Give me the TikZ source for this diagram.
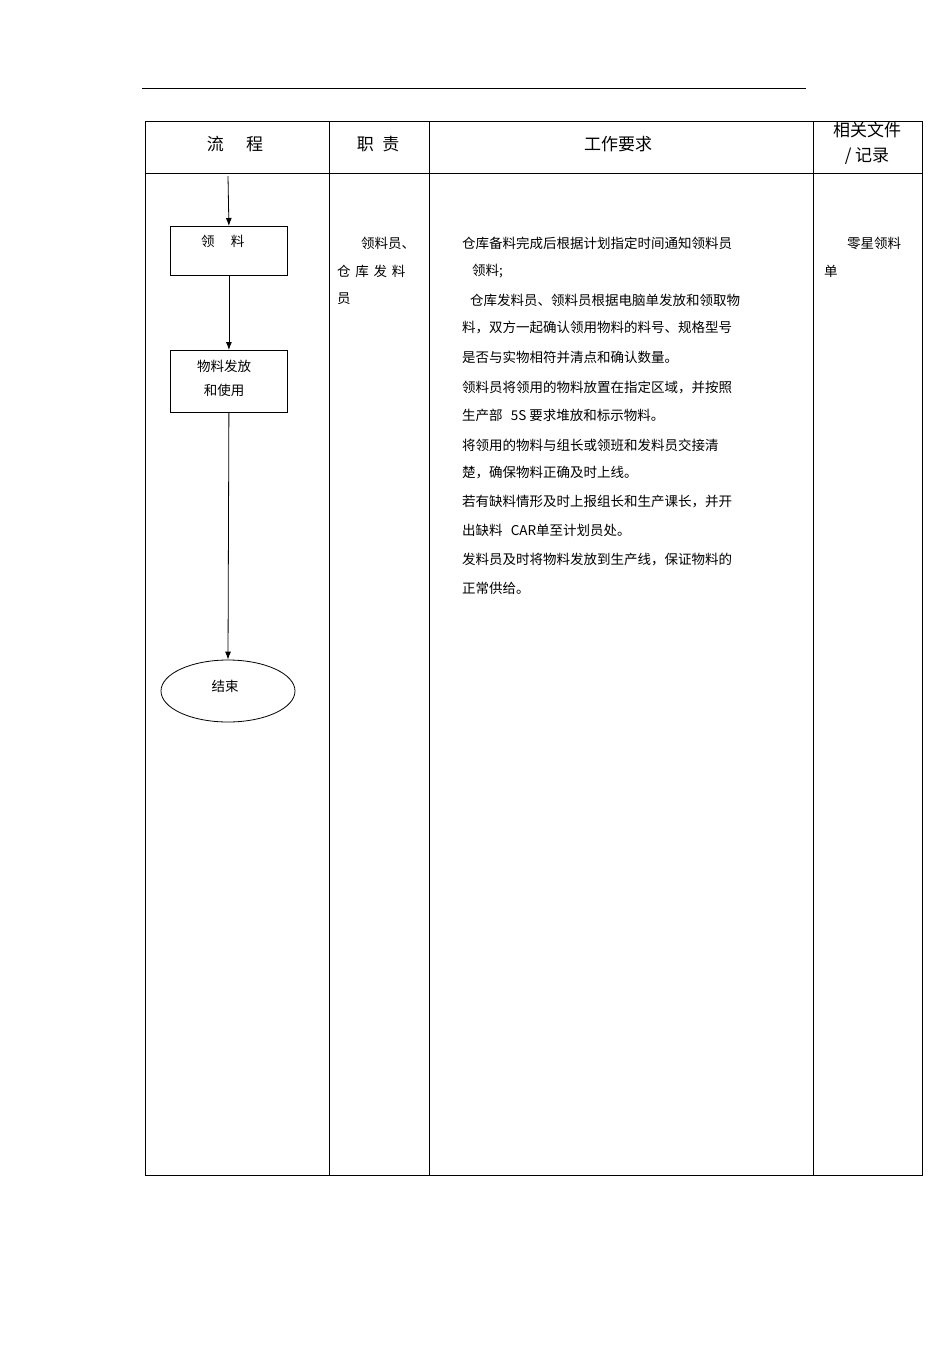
\documentclass[tikz,border=0pt]{standalone}
\usepackage{fontspec}
\setmainfont{Noto Sans CJK SC}
\usetikzlibrary{arrows.meta,shapes.geometric}
\tikzset{
  ln/.style={line width=0.8pt},
  arr/.style={ln,-{Latex[length=8pt,width=6pt]}},
  txt/.style={anchor=west,inner sep=0pt,font=\fontsize{13.5}{16}\selectfont},
  hdr/.style={inner sep=0pt,font=\fontsize{17}{20}\selectfont},
  box/.style={draw,ln,minimum width=117pt,inner sep=0pt,align=center,font=\fontsize{13.5}{24}\selectfont}
}
\begin{document}
\begin{tikzpicture}[x=1pt,y=-1pt]
\useasboundingbox (0,0) rectangle (950,1345);
\draw[line width=0.6pt] (142,88) -- (806,88);
\draw[ln] (145,121) rectangle (922,1175);
\foreach \x in {329,429,813} \draw[ln] (\x,121) -- (\x,1175);
\draw[ln] (145,173) -- (922,173);
\node[hdr] (h1) at (235,144) {流\hspace{1.3em}程};
\node[hdr] (h2) at (378,144) {职\hspace{0.5em}责};
\node[hdr] (h3) at (618,144) {工作要求};
\node[hdr] (h4) at (867,130) {相关文件};
\node[hdr] (h5) at (867,156) {/ 记录};
\coordinate (s) at (228,176);
\node[box,minimum height=49pt,anchor=north west] (b1) at (170,226) {};
\node[txt] at (201,241) {领\hspace{1.2em}料};
\node[box,minimum height=62pt,anchor=north west] (b2) at (170,350) {};
\node[align=center,inner sep=0pt,font=\fontsize{13.5}{24}\selectfont] at (224,378) {物料发放\\和使用};
\node[draw,ln,ellipse,minimum width=134pt,minimum height=62pt,inner sep=0pt] (e) at (228,691) {};
\node[font=\fontsize{13.5}{16}\selectfont] at (225,686) {结束};
\draw[arr] (s) -- (b1.north);
\draw[arr] (b1.south) -- (b2.north);
\draw[arr] (b2.south) -- (e.north);
\node[txt] at (361,243) {领料员、};
\node[txt] at (337,271) {仓\hspace{0.35em}库\hspace{0.35em}发\hspace{0.35em}料};
\node[txt] at (337,299) {员};
\foreach \t/\x/\y in {
 {仓库备料完成后根据计划指定时间通知领料员}/462/243,
 {领料;}/472/271,
 {仓库发料员、领料员根据电脑单发放和领取物}/470/300,
 {料，双方一起确认领用物料的料号、规格型号}/462/328,
 {是否与实物相符并清点和确认数量。}/462/357,
 {领料员将领用的物料放置在指定区域，并按照}/462/387,
 {生产部\hspace{0.6em}5S 要求堆放和标示物料。}/462/415,
 {将领用的物料与组长或领班和发料员交接清}/462/445,
 {楚，确保物料正确及时上线。}/462/473,
 {若有缺料情形及时上报组长和生产课长，并开}/462/502,
 {出缺料\hspace{0.6em}CAR单至计划员处。}/462/530,
 {发料员及时将物料发放到生产线，保证物料的}/462/560,
 {正常供给。}/462/588}
 \node[txt] at (\x,\y) {\t};
\node[txt] at (847,243) {零星领料};
\node[txt] at (824,271) {单};
\end{tikzpicture}
\end{document}
